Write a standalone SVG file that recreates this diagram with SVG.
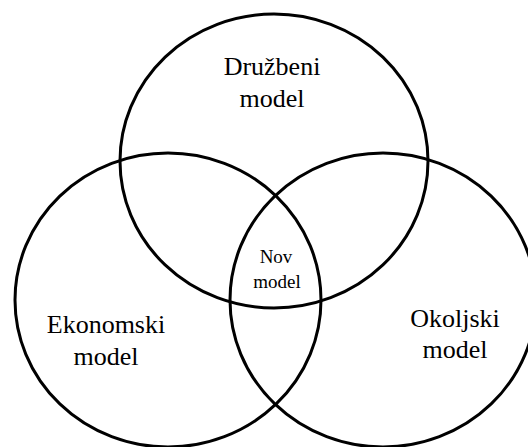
<svg xmlns="http://www.w3.org/2000/svg" width="528" height="447" viewBox="0 0 528 447">
<style>
.c{fill:none;stroke:#000;stroke-width:3}
.t{font-family:"Liberation Serif","Times New Roman",serif;font-size:26px;fill:#000;text-anchor:middle}
.s{font-size:19px}
</style>
<rect width="528" height="447" fill="#fff"/>
<g id="druzbeni">
<ellipse class="c" cx="274" cy="161" rx="154" ry="147"/>
<text class="t" x="272" y="75">Družbeni</text>
<text class="t" x="272" y="107">model</text>
</g>
<g id="ekonomski">
<ellipse class="c" cx="168" cy="300" rx="153" ry="147"/>
<text class="t" x="106" y="333">Ekonomski</text>
<text class="t" x="106" y="365">model</text>
</g>
<g id="okoljski">
<ellipse class="c" cx="383" cy="300" rx="153" ry="147"/>
<text class="t" x="455" y="327">Okoljski</text>
<text class="t" x="455" y="358">model</text>
</g>
<g id="nov">
<text class="t s" x="276" y="263">Nov</text>
<text class="t s" x="277" y="288">model</text>
</g>
<g id="connectors"/>
</svg>
